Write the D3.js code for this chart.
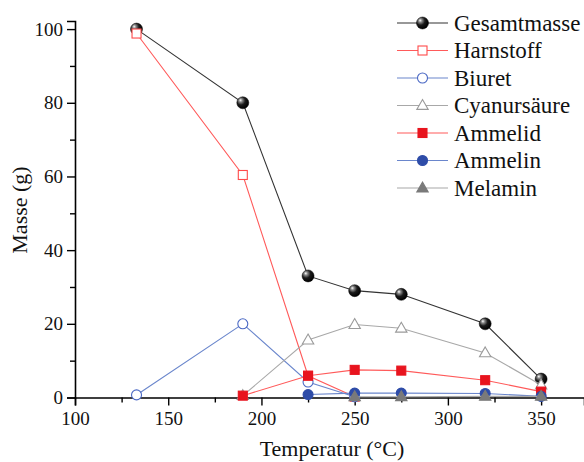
<!DOCTYPE html>
<html>
<head>
<meta charset="utf-8">
<script src="https://cdn.jsdelivr.net/npm/d3@7"></script>
<style>
  html, body { margin: 0; padding: 0; background: #fff; }
  svg { display: block; }
  text { font-family: "Liberation Serif", "Times New Roman", serif; fill: #111; }
</style>
</head>
<body>
<svg id="chart" width="584" height="462"></svg>
<script>
// Temperatures (°C) at which samples were taken
const temperatures = [133, 190, 225, 250, 275, 320, 350];

// Mass (g) per compound; null = not measured
const gesamtmasse  = [100, 80, 33, 29, 28, 20, 5];
const harnstoff    = [98.8, 60.4, 5.9, 0.2, null, null, null];
const biuret       = [0.7, 20, 4.2, 0.2, null, null, null];
const cyanursaeure = [null, 0.5, 15.6, 19.8, 18.8, 12.1, 3.4];
const ammelid      = [null, 0.5, 5.9, 7.5, 7.3, 4.7, 1.6];
const ammelin      = [null, null, 0.8, 1.2, 1.2, 1.1, 0.3];
const melamin      = [null, null, null, 0.2, 0.2, 0.3, 0.3];

const seriesNames = ["Gesamtmasse", "Harnstoff", "Biuret", "Cyanursäure", "Ammelid", "Ammelin", "Melamin"];
const seriesValues = [gesamtmasse, harnstoff, biuret, cyanursaeure, ammelid, ammelin, melamin];

const xTicks = [100, 150, 200, 250, 300, 350];
const xMinorTicks = [125, 175, 225, 275, 325, 375];
const yTicks = [0, 20, 40, 60, 80, 100];
const yMinorTicks = [10, 30, 50, 70, 90];

// Styling per series: line colour, marker shape, stroke, fill
const styles = [
  { line: "#333333", shape: "sphere" },
  { line: "#ff5a5a", shape: "square", stroke: "#ff4a4a", fill: "#fff" },
  { line: "#6a86cc", shape: "circle", stroke: "#4a68c4", fill: "#fff" },
  { line: "#a8a8a8", shape: "triangle", stroke: "#9a9a9a", fill: "#fff" },
  { line: "#ff5a5a", shape: "square", stroke: "#e8141e", fill: "#e8141e" },
  { line: "#6a86cc", shape: "circle", stroke: "#2e4ca8", fill: "#2e4ca8" },
  { line: "#a8a8a8", shape: "triangle", stroke: "#7a7a7a", fill: "#7a7a7a" }
];

const svg = d3.select("#chart");

const x = d3.scaleLinear().domain([100, 373]).range([75, 584]);
const y = d3.scaleLinear().domain([0, 102.2]).range([397.5, 21]);

// Sphere gradient for the total-mass markers
const defs = svg.append("defs");
const grad = defs.append("radialGradient")
  .attr("id", "sphere").attr("cx", "38%").attr("cy", "35%").attr("r", "65%")
  .attr("fx", "30%").attr("fy", "28%");
grad.append("stop").attr("offset", "0%").attr("stop-color", "#ffffff");
grad.append("stop").attr("offset", "22%").attr("stop-color", "#8a8a8a");
grad.append("stop").attr("offset", "55%").attr("stop-color", "#1a1a1a");
grad.append("stop").attr("offset", "100%").attr("stop-color", "#000000");

function drawMarker(g, shape, st, cx, cy) {
  if (shape === "sphere") {
    g.append("circle").attr("cx", cx).attr("cy", cy).attr("r", 6)
      .attr("fill", "url(#sphere)").attr("stroke", "#000").attr("stroke-width", 0.5);
  } else if (shape === "square") {
    g.append("rect").attr("x", cx - 4.5).attr("y", cy - 4.5).attr("width", 9).attr("height", 9)
      .attr("fill", st.fill).attr("stroke", st.stroke).attr("stroke-width", 1.1);
  } else if (shape === "circle") {
    g.append("circle").attr("cx", cx).attr("cy", cy).attr("r", 5)
      .attr("fill", st.fill).attr("stroke", st.stroke).attr("stroke-width", 1.1);
  } else if (shape === "triangle") {
    const s = 6;
    g.append("path")
      .attr("d", `M${cx},${cy - s}L${cx + s * 0.95},${cy + s * 0.65}L${cx - s * 0.95},${cy + s * 0.65}Z`)
      .attr("fill", st.fill).attr("stroke", st.stroke).attr("stroke-width", 1.1);
  }
}

// Axes
const xAxis = svg.append("g").attr("transform", `translate(0,${y(0)})`)
  .call(d3.axisBottom(x).tickValues(xTicks).tickSize(8).tickPadding(6).tickFormat(d3.format("d")));
svg.append("g").attr("transform", `translate(0,${y(0)})`)
  .call(d3.axisBottom(x).tickValues(xMinorTicks).tickSize(5).tickFormat(""))
  .select(".domain").remove();

const yAxis = svg.append("g").attr("transform", `translate(${x(100)},0)`)
  .call(d3.axisLeft(y).tickValues(yTicks).tickSize(8).tickPadding(4).tickFormat(d3.format("d")));
svg.append("g").attr("transform", `translate(${x(100)},0)`)
  .call(d3.axisLeft(y).tickValues(yMinorTicks).tickSize(5).tickFormat(""))
  .select(".domain").remove();

svg.selectAll(".domain").attr("stroke", "#000").attr("stroke-width", 1.6);
svg.selectAll(".tick line").attr("stroke", "#000").attr("stroke-width", 1.4);
svg.selectAll(".tick text").style("font-family", "Liberation Serif").style("font-size", "19px").attr("fill", "#111");
xAxis.selectAll(".tick text").attr("dy", "0.71em");

// Axis titles
svg.append("text").attr("x", 332).attr("y", 456)
  .attr("text-anchor", "middle").style("font-size", "22px").text("Temperatur (°C)");
svg.append("text").attr("transform", "translate(27,210) rotate(-90)")
  .attr("text-anchor", "middle").style("font-size", "22px").text("Masse (g)");

// Series lines and markers
const plot = svg.append("g");
seriesValues.forEach((vals, i) => {
  const st = styles[i];
  const pts = temperatures.map((t, k) => ({ t, v: vals[k] })).filter(d => d.v !== null);
  const line = d3.line().x(d => x(d.t)).y(d => y(d.v));
  const g = plot.append("g");
  g.append("path").attr("d", line(pts)).attr("fill", "none")
    .attr("stroke", st.line).attr("stroke-width", 1.1);
  pts.forEach(d => drawMarker(g, st.shape, st, x(d.t), y(d.v)));
});

// Legend
const legend = svg.append("g");
seriesNames.forEach((name, i) => {
  const st = styles[i];
  const cy = 23 + i * 27.5;
  const g = legend.append("g");
  g.append("line").attr("x1", 397).attr("x2", 448).attr("y1", cy).attr("y2", cy)
    .attr("stroke", st.line).attr("stroke-width", 1.1);
  drawMarker(g, st.shape, st, 422.5, cy);
  g.append("text").attr("x", 454).attr("y", cy).attr("dy", "0.34em")
    .style("font-size", "23px").text(name);
});
</script>
</body>
</html>
